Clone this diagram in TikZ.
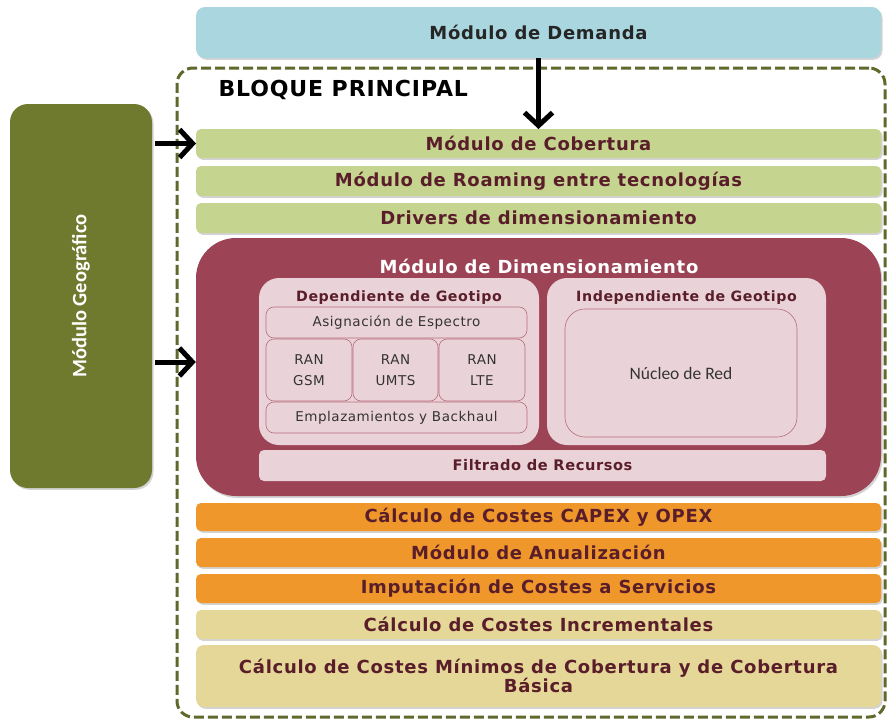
\documentclass[tikz,border=0pt]{standalone}
\usepackage{fontspec}
\setmainfont{DejaVu Sans}[LetterSpace=4]
\newfontfamily\calfont{Carlito}
\usetikzlibrary{arrows.meta,shadows}
\definecolor{demc}{HTML}{A9D6DF}
\definecolor{olivec}{HTML}{6F7A2F}
\definecolor{dashc}{HTML}{5E6A2C}
\definecolor{lgreen}{HTML}{C5D58F}
\definecolor{dimc}{HTML}{9C4456}
\definecolor{pinkc}{HTML}{EAD3D8}
\definecolor{pinkb}{HTML}{B66C7C}
\definecolor{orangec}{HTML}{F0972C}
\definecolor{khakic}{HTML}{E4D797}
\definecolor{txtc}{HTML}{5A1E2A}
\tikzset{
  box/.style={inner sep=0pt, outer sep=0pt, rounded corners=5pt, font=\bfseries\fontsize{18}{20}\selectfont, text=txtc, drop shadow={shadow xshift=1.5pt, shadow yshift=-1.8pt, opacity=0.35}},
  greenbar/.style={box, fill=lgreen},
  orangebar/.style={box, fill=orangec},
  khakibar/.style={box, fill=khakic},
  pinkpanel/.style={inner sep=0pt, outer sep=0pt, fill=pinkc, rounded corners=20pt},
  subbox/.style={inner sep=0pt, outer sep=0pt, draw=pinkb, line width=0.6pt, rounded corners=8pt, fill=pinkc, text=black!80, font=\fontsize{13.5}{21}\selectfont, align=center},
  bigarrow/.style={line width=5pt, -{Straight Barb[length=13pt,width=28pt,line width=5pt]}}
}
\begin{document}
\begin{tikzpicture}[x=1pt,y=-1pt]
\useasboundingbox (0,0) rectangle (887,720);
% dashed main block
\node[draw=dashc, dash pattern=on 10pt off 4pt, line width=3pt, rounded corners=16pt, minimum width=708pt, minimum height=649pt, inner sep=0pt] (bloque) at (531,392.5) {};
\node[anchor=west, font=\bfseries\fontsize{22}{24}\selectfont, text=black] (bt) at (215,90) {BLOQUE PRINCIPAL};
% demanda
\node[box, fill=demc, text=black!85, minimum width=685pt, minimum height=51pt, rounded corners=9pt] (dem) at (538.5,32.5) {Módulo de Demanda};
% geografico
\node[inner sep=0pt, fill=olivec, rounded corners=18pt, minimum width=142pt, minimum height=384pt, drop shadow={shadow xshift=1.5pt, shadow yshift=-1.8pt, opacity=0.35}] (geo) at (81,296) {};
\node[rotate=90, text=white, font=\calfont\bfseries\fontsize{20.5}{22}\selectfont] (geot) at (geo.center) {Módulo Geográfico};
% green bars
\node[greenbar, minimum width=685pt, minimum height=29pt] (cob) at (538.5,143.5) {Módulo de Cobertura};
\node[greenbar, minimum width=685pt, minimum height=30pt] (roam) at (538.5,181) {Módulo de Roaming entre tecnologías};
\node[greenbar, minimum width=685pt, minimum height=30pt] (drv) at (538.5,218) {Drivers de dimensionamiento};
% dimensionamiento
\node[inner sep=0pt, fill=dimc, rounded corners=40pt, minimum width=685pt, minimum height=258pt, drop shadow={shadow xshift=1.5pt, shadow yshift=-2pt, opacity=0.35}] (dim) at (538.5,367) {};
\node[text=white, font=\bfseries\fontsize{18}{20}\selectfont] (dimt) at (539,266) {Módulo de Dimensionamiento};
\node[pinkpanel, minimum width=280pt, minimum height=167pt] (dep) at (399,361.5) {};
\node[pinkpanel, minimum width=279pt, minimum height=167pt] (ind) at (686.5,361.5) {};
\node[text=txtc, font=\bfseries\fontsize{14.2}{16}\selectfont] (dept) at (399,298) {Dependiente de Geotipo};
\node[text=txtc, font=\bfseries\fontsize{14.2}{16}\selectfont] (indt) at (686.5,298) {Independiente de Geotipo};
\node[subbox, minimum width=261pt, minimum height=31pt] (asig) at (396.5,322.5) {Asignación de Espectro};
\node[subbox, minimum width=86pt, minimum height=62pt] (gsm) at (309,370) {RAN\\GSM};
\node[subbox, minimum width=85pt, minimum height=62pt] (umts) at (395.5,370) {RAN\\UMTS};
\node[subbox, minimum width=86pt, minimum height=62pt] (lte) at (482,370) {RAN\\LTE};
\node[subbox, minimum width=261pt, minimum height=31pt] (empl) at (396.5,417.5) {Emplazamientos y Backhaul};
\node[subbox, minimum width=232pt, minimum height=128pt, rounded corners=20pt, font=\calfont\fontsize{17.5}{19}\selectfont] (nuc) at (681,373) {Núcleo de Red};
\node[inner sep=0pt, fill=pinkc, rounded corners=5pt, minimum width=567pt, minimum height=31pt, text=txtc, font=\bfseries\fontsize{14.6}{16}\selectfont] (filt) at (542.5,465.5) {Filtrado de Recursos};
% cost bars
\node[orangebar, minimum width=685pt, minimum height=28pt] (capex) at (538.5,517) {Cálculo de Costes CAPEX y OPEX};
\node[orangebar, minimum width=685pt, minimum height=29pt] (anual) at (538.5,552.5) {Módulo de Anualización};
\node[orangebar, minimum width=685pt, minimum height=29pt] (imput) at (538.5,588.5) {Imputación de Costes a Servicios};
\node[khakibar, minimum width=685pt, minimum height=29pt] (incr) at (538.5,624.5) {Cálculo de Costes Incrementales};
\node[khakibar, minimum width=685pt, minimum height=62pt, align=center, rounded corners=8pt, font=\bfseries\fontsize{18}{19.5}\selectfont] (minc) at (538.5,676) {Cálculo de Costes Mínimos de Cobertura y de Cobertura\\Básica};
% arrows
\draw[bigarrow] (dem.south) -- (cob.north);
\draw[bigarrow] ([xshift=3pt]geo.east |- cob.west) -- (cob.west);
\draw[bigarrow] ([xshift=3pt,yshift=5pt]geo.east |- dim.west) -- ([yshift=5pt]dim.west);
\end{tikzpicture}
\end{document}
